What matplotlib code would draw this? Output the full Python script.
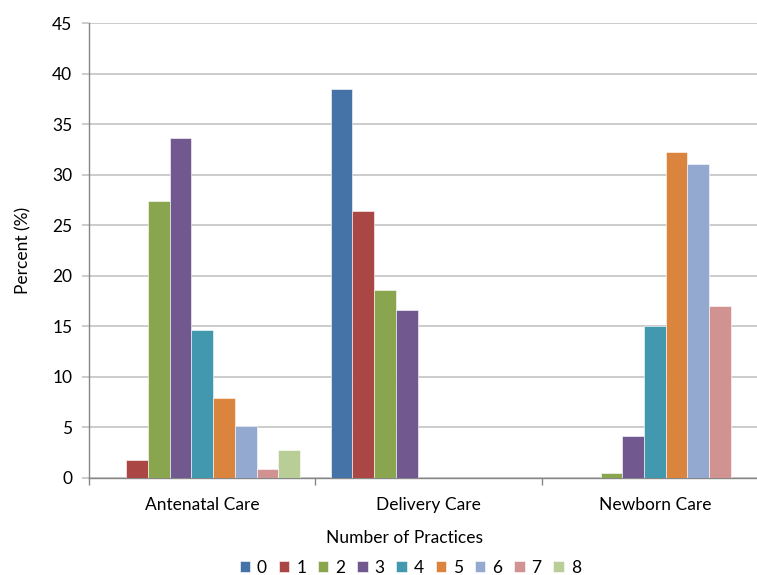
import numpy as np
import matplotlib.pyplot as plt

plt.rcParams['font.family'] = ['Lato', 'DejaVu Sans']

# Percent of women by number of practices, per care type
categories = ['Antenatal Care', 'Delivery Care', 'Newborn Care']
practices = ['0', '1', '2', '3', '4', '5', '6', '7', '8']
antenatal = [0, 1.8, 27.4, 33.6, 14.6, 7.9, 5.1, 0.9, 2.8]
delivery = [38.5, 26.4, 18.6, 16.6, 0, 0, 0, 0, 0]
newborn = [0, 0, 0.5, 4.2, 15.0, 32.2, 31.1, 17.0, 0]
colors = ['#4572A7', '#AA4643', '#89A54E', '#71588F', '#4198AF',
          '#DB843D', '#93A9CF', '#D19392', '#B9CD96']

values = np.array([antenatal, delivery, newborn])

fig = plt.figure(figsize=(7.57, 5.75), dpi=100)
ax = fig.add_axes([0.1176, 0.1687, 0.897, 0.7913])

x = np.arange(len(categories))
w = 0.096
for i, p in enumerate(practices):
    ax.bar(x + (i - 4) * w, values[:, i], width=w, color=colors[i],
           edgecolor='white', linewidth=0.4, label=p, zorder=3)

ax.set_xlim(-0.5, 2.5)
ax.set_ylim(0, 45)
ax.set_yticks(range(0, 46, 5))
ax.grid(axis='y', color='#BFBFBF', linewidth=1.1, zorder=0)

# category boundaries get the tick marks, labels sit in the middle
ax.set_xticks([-0.5, 0.5, 1.5, 2.5])
ax.set_xticklabels([])
ax.set_xticks(x, minor=True)
ax.set_xticklabels(categories, minor=True)
ax.tick_params(axis='x', which='major', length=5, color='#868686', width=1)
ax.tick_params(axis='x', which='minor', length=0, pad=14, labelsize=12.5)
ax.tick_params(axis='y', length=5, color='#BFBFBF', width=1.1, labelsize=12.5, pad=7)

for s in ['top', 'right']:
    ax.spines[s].set_visible(False)
for s in ['left', 'bottom']:
    ax.spines[s].set_color('#868686')
    ax.spines[s].set_linewidth(1)

ax.set_ylabel('Percent (%)', fontsize=12.5, labelpad=15)
fig.text(0.535, 0.064, 'Number of Practices', ha='center', va='center', fontsize=12.5)

fig.legend(*ax.get_legend_handles_labels(), loc='center', ncol=9,
           bbox_to_anchor=(0.542, 0.013), frameon=False, fontsize=12.5,
           handlelength=0.6, handleheight=0.6, handletextpad=0.4,
           columnspacing=0.68)

fig.savefig('out.png', dpi=100)
